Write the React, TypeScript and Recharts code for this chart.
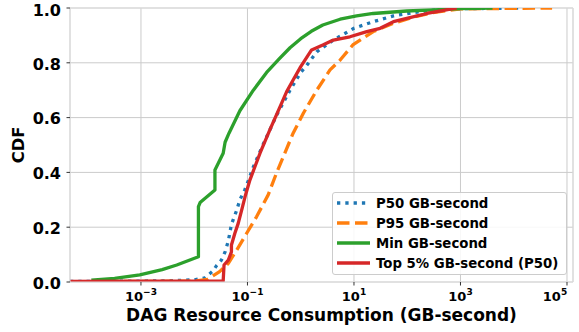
import React from 'react';
import { LineChart, Line, XAxis, YAxis, CartesianGrid, Legend, ReferenceLine } from 'recharts';

// GB-second values (x) and CDF values (y)
const p50X = [4.65e-5, 3.2e-3, 0.01, 0.0158, 0.0224, 0.0263, 0.0324, 0.038, 0.0437, 0.05, 0.063, 0.072, 0.089, 0.104, 0.129, 0.195, 0.355, 0.63, 1.0, 1.29, 2.0, 4.1, 10, 23, 55, 126, 309, 800, 15800];
const p50Y = [0.002, 0.004, 0.008, 0.015, 0.04, 0.06, 0.08, 0.11, 0.15, 0.21, 0.263, 0.3, 0.336, 0.37, 0.42, 0.5, 0.61, 0.7, 0.765, 0.79, 0.84, 0.883, 0.926, 0.95, 0.971, 0.983, 0.992, 0.997, 1.0];

const p95X = [4.65e-5, 0.01, 0.0178, 0.03, 0.0437, 0.063, 0.0966, 0.148, 0.245, 0.355, 0.47, 0.72, 1.12, 2.0, 3.55, 5.5, 9.5, 23, 55, 126, 302, 1000, 52500];
const p95Y = [0.001, 0.003, 0.01, 0.038, 0.068, 0.117, 0.178, 0.238, 0.318, 0.4, 0.457, 0.543, 0.616, 0.7, 0.774, 0.81, 0.865, 0.914, 0.944, 0.966, 0.983, 0.997, 1.0];

const minX = [1.17e-4, 3.2e-4, 9.5e-4, 2.5e-3, 4.7e-3, 0.012, 0.012, 0.0129, 0.0245, 0.0245, 0.035, 0.038, 0.045, 0.072, 0.129, 0.229, 0.398, 0.63, 1.0, 1.58, 2.6, 5.5, 11.2, 23, 98, 309, 1000, 4000];
const minY = [0.007, 0.013, 0.026, 0.045, 0.062, 0.092, 0.275, 0.29, 0.336, 0.409, 0.47, 0.51, 0.543, 0.625, 0.7, 0.765, 0.815, 0.855, 0.888, 0.915, 0.938, 0.959, 0.971, 0.98, 0.989, 0.993, 0.998, 1.0];

const topX = [4.65e-5, 0.035, 0.0363, 0.0437, 0.05, 0.05, 0.058, 0.067, 0.078, 0.09, 0.111, 0.172, 0.263, 0.41, 0.545, 0.72, 1.0, 1.2, 1.6, 2.6, 4.1, 8.4, 17.4, 31, 55, 98, 234, 407, 850];
const topY = [0.002, 0.004, 0.062, 0.08, 0.11, 0.135, 0.178, 0.214, 0.263, 0.311, 0.372, 0.47, 0.555, 0.64, 0.695, 0.737, 0.786, 0.81, 0.847, 0.865, 0.883, 0.895, 0.914, 0.926, 0.95, 0.962, 0.98, 0.989, 1.0];

const xTicks = [1e-3, 1e-1, 1e1, 1e3, 1e5];
const xTickExps = ['\u22123', '\u22121', '1', '3', '5'];
const yTicks = [0, 0.2, 0.4, 0.6, 0.8, 1.0];
const X_MIN = 4.65e-5;
const X_MAX = 1.297e5;

const toRows = (xs: number[], ys: number[]) => xs.map((x, i) => ({ x, y: ys[i] }));

const series = [
  { name: 'P50 GB-second', color: '#1f77b4', dash: '3.3 5', data: toRows(p50X, p50Y) },
  { name: 'P95 GB-second', color: '#ff7f0e', dash: '12.5 5.5', data: toRows(p95X, p95Y) },
  { name: 'Min GB-second', color: '#2ca02c', dash: undefined, data: toRows(minX, minY) },
  { name: 'Top 5% GB-second (P50)', color: '#d62728', dash: undefined, data: toRows(topX, topY) },
];

const FONT = '"DejaVu Sans", sans-serif';

const XTick = (props: any) => {
  const { x, y, payload } = props;
  const idx = xTicks.indexOf(payload.value);
  const exp = idx >= 0 ? xTickExps[idx] : '';
  return (
    <text x={x} y={y + 13.2} textAnchor="middle" fontFamily={FONT} fontWeight="bold" fill="#000">
      <tspan fontSize={13}>10</tspan>
      <tspan fontSize={9} dy={-5.7}>{exp}</tspan>
    </text>
  );
};

const YTick = (props: any) => {
  const { x, y, payload } = props;
  return (
    <text x={x} y={y + 6.8} textAnchor="end" fontFamily={FONT} fontWeight="bold" fontSize={16} fill="#000">
      {Number(payload.value).toFixed(1)}
    </text>
  );
};

const LegendBox = () => (
  <div
    style={{
      boxSizing: 'border-box',
      width: 235,
      height: 83,
      border: '1px solid #cccccc',
      borderRadius: 3,
      background: 'rgba(255,255,255,0.85)',
      fontFamily: FONT,
      fontWeight: 'bold',
      fontSize: 13.3,
      color: '#000',
    }}
  >
    {series.map((s) => (
      <div key={s.name} style={{ position: 'relative', height: 20 }}>
        <svg width={34} height={20} style={{ position: 'absolute', left: 3, top: 0 }}>
          <line x1={1} y1={10} x2={34} y2={10} stroke={s.color} strokeWidth={3.3} strokeDasharray={s.dash} />
        </svg>
        <span style={{ position: 'absolute', left: 43.5, top: 1, lineHeight: '20px', whiteSpace: 'nowrap' }}>{s.name}</span>
      </div>
    ))}
  </div>
);

export default function App() {
  return (
    <div style={{ position: 'absolute', left: 0, top: 0, width: 579, height: 332, background: '#fff' }}>
      <LineChart width={579} height={332} margin={{ top: 8, right: 6, bottom: 8, left: 8 }}>
        <CartesianGrid stroke="#cbcbcb" strokeWidth={1} />
        <XAxis
          dataKey="x"
          type="number"
          scale="log"
          domain={[X_MIN, X_MAX]}
          allowDataOverflow
          ticks={xTicks}
          tick={<XTick />}
          tickSize={3.5}
          tickMargin={2}
          tickLine={{ stroke: '#333', strokeWidth: 1 }}
          axisLine={{ stroke: '#dddddd', strokeWidth: 1 }}
          height={42}
          label={{
            content: (p: any) => {
              const vb = p.viewBox || { x: 70, y: 282, width: 503, height: 42 };
              return (
                <text x={vb.x + vb.width / 2} y={vb.y + 38.8} textAnchor="middle" fontFamily={FONT} fontWeight="bold" fontSize={17} fill="#000">
                  DAG Resource Consumption (GB-second)
                </text>
              );
            },
          }}
        />
        <YAxis
          type="number"
          domain={[0, 1]}
          ticks={yTicks}
          allowDataOverflow
          tick={<YTick />}
          tickSize={3.5}
          tickMargin={5.5}
          tickLine={{ stroke: '#333', strokeWidth: 1 }}
          axisLine={{ stroke: '#dddddd', strokeWidth: 1 }}
          width={62}
          label={{
            content: (p: any) => {
              const vb = p.viewBox || { x: 8, y: 8, width: 62, height: 274 };
              const cx = vb.x + 16;
              const cy = vb.y + vb.height / 2;
              return (
                <text x={cx} y={cy} transform={`rotate(-90, ${cx}, ${cy})`} textAnchor="middle" fontFamily={FONT} fontWeight="bold" fontSize={16.3} fill="#000">
                  CDF
                </text>
              );
            },
          }}
        />
        <ReferenceLine x={X_MAX} stroke="#dddddd" strokeWidth={1} ifOverflow="extendDomain" />
        <ReferenceLine y={1} stroke="#dddddd" strokeWidth={1} />
        {series.map((s) => (
          <Line
            key={s.name}
            data={s.data}
            dataKey="y"
            name={s.name}
            type="linear"
            stroke={s.color}
            strokeWidth={3.3}
            strokeDasharray={s.dash}
            strokeLinejoin="round"
            dot={false}
            activeDot={false}
            isAnimationActive={false}
          />
        ))}
        <Legend
          layout="horizontal"
          verticalAlign="middle"
          align="center"
          content={() => <LegendBox />}
          wrapperStyle={{ left: 331.5, top: 192, right: 'auto', bottom: 'auto', width: 235, height: 83 }}
        />
      </LineChart>
    </div>
  );
}
